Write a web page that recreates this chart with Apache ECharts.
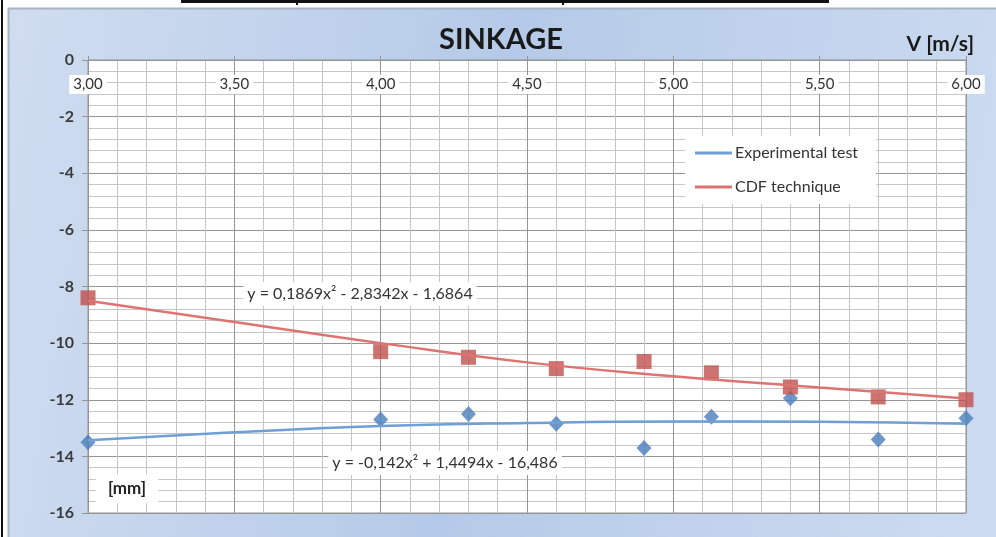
<!DOCTYPE html>
<html>
<head>
<meta charset="utf-8">
<script src="https://cdn.jsdelivr.net/npm/echarts@6/dist/echarts.min.js"></script>
<style>
  html, body { margin: 0; padding: 0; background: #ffffff; }
  #chart { width: 996px; height: 537px; }
</style>
</head>
<body>
<div id="chart"></div>
<script>
// Speed of the measurements [m/s]
const speeds = [3.00, 4.00, 4.30, 4.60, 4.90, 5.13, 5.40, 5.70, 6.00];
// Sinkage [mm] from the CFD simulation and from the experimental test
const cdfSinkage = [-8.4, -10.3, -10.5, -10.9, -10.65, -11.05, -11.55, -11.9, -12.0];
const expSinkage = [-13.5, -12.7, -12.5, -12.85, -13.7, -12.6, -11.95, -13.4, -12.65];

// Polynomial trend lines, sampled along the speed range
const trendSpeeds = [3.0, 3.5, 4.0, 4.5, 5.0, 5.5, 6.0];
const cdfTrend = [-8.5, -9.25, -10.0, -10.68, -11.17, -11.57, -11.96];
const expTrend = [-13.43, -13.15, -12.93, -12.82, -12.77, -12.78, -12.85];

// Axis ranges and tick steps
const speedRange = [3, 6];
const speedStep = 0.5;
const sinkageRange = [-16, 0];
const sinkageStep = 2;

// Texts
const titleText = 'SINKAGE';
const xUnit = 'V [m/s]';
const yUnit = '[mm]';
const legendNames = ['Experimental test', 'CDF technique'];
const cdfEquation = 'y = 0,1869x² - 2,8342x - 1,6864';
const expEquation = 'y = -0,142x² + 1,4494x - 16,486';

const FONT = 'Lato, "Open Sans", sans-serif';
const BLUE = '#4a7ebb';
const RED = '#c0504d';
const BLUE_LINE = '#6f9fd6';
const RED_LINE = '#dd7472';
const MAJOR_GRID = '#959595';
const MINOR_GRID = '#c6c6c6';

const pairs = (xs, ys) => xs.map((x, i) => [x, ys[i]]);
const comma = v => v.toFixed(2).replace('.', ',');

const chart = echarts.init(document.getElementById('chart'));

chart.setOption({
  animation: false,
  backgroundColor: '#ffffff',
  textStyle: { fontFamily: FONT },
  title: {
    text: titleText,
    left: 439,
    top: 25,
    padding: 0,
    textStyle: { fontFamily: FONT, fontSize: 29, fontWeight: 'bold', color: '#1a1a1a' }
  },
  legend: {
    data: legendNames,
    orient: 'vertical',
    left: 685,
    top: 136,
    padding: [7, 18, 7, 10],
    itemGap: 14,
    itemWidth: 37,
    itemHeight: 3,
    icon: 'rect',
    backgroundColor: '#ffffff',
    textStyle: { fontFamily: FONT, fontSize: 16, color: '#333333', lineHeight: 20, padding: [0, 0, 0, -2] }
  },
  grid: {
    left: 88,
    right: 30,
    top: 60,
    bottom: 24,
    show: true,
    backgroundColor: '#ffffff',
    borderColor: MAJOR_GRID,
    borderWidth: 1
  },
  xAxis: {
    type: 'value',
    position: 'top',
    min: speedRange[0],
    max: speedRange[1],
    interval: speedStep,
    axisLine: { show: true, lineStyle: { color: MAJOR_GRID, width: 1 } },
    axisTick: { show: true, length: 4, lineStyle: { color: MAJOR_GRID } },
    axisLabel: {
      inside: true,
      margin: 15,
      showMinLabel: true,
      showMaxLabel: true,
      formatter: v => comma(v),
      fontFamily: FONT,
      fontSize: 15,
      color: '#333333',
      backgroundColor: '#ffffff',
      padding: [2, 4, 2, 4]
    },
    splitLine: { show: true, lineStyle: { color: MAJOR_GRID, width: 1 } },
    minorTick: { show: false, splitNumber: 5 },
    minorSplitLine: { show: true, lineStyle: { color: MINOR_GRID, width: 1 } }
  },
  yAxis: {
    type: 'value',
    min: sinkageRange[0],
    max: sinkageRange[1],
    interval: sinkageStep,
    axisLine: { show: true, lineStyle: { color: MAJOR_GRID, width: 1 } },
    axisTick: { show: true, length: 6, lineStyle: { color: MAJOR_GRID } },
    axisLabel: {
      margin: 14,
      fontFamily: FONT,
      fontSize: 16,
      fontWeight: 'bold',
      color: '#3a3a3a'
    },
    splitLine: { show: true, lineStyle: { color: MAJOR_GRID, width: 1 } },
    minorTick: { show: false, splitNumber: 5 },
    minorSplitLine: { show: true, lineStyle: { color: MINOR_GRID, width: 1 } }
  },
  series: [
    {
      name: 'Experimental data',
      type: 'scatter',
      symbol: 'diamond',
      symbolSize: [15, 16],
      itemStyle: { color: BLUE },
      data: pairs(speeds, expSinkage),
      z: 2
    },
    {
      name: 'CFD data',
      type: 'scatter',
      symbol: 'rect',
      symbolSize: 15,
      itemStyle: { color: RED },
      data: pairs(speeds, cdfSinkage),
      z: 3
    },
    {
      name: legendNames[0],
      type: 'line',
      smooth: true,
      showSymbol: false,
      lineStyle: { color: BLUE_LINE, width: 2.5 },
      itemStyle: { color: BLUE_LINE },
      data: pairs(trendSpeeds, expTrend),
      z: 4
    },
    {
      name: legendNames[1],
      type: 'line',
      smooth: true,
      showSymbol: false,
      lineStyle: { color: RED_LINE, width: 2.5 },
      itemStyle: { color: RED_LINE },
      data: pairs(trendSpeeds, cdfTrend),
      z: 4
    }
  ],
  graphic: [
    // page frame behind the chart panel
    { type: 'rect', z: -100, silent: true, shape: { x: 0, y: 0, width: 996, height: 537 }, style: { fill: '#ffffff' } },
    { type: 'rect', z: -99, silent: true, shape: { x: 1, y: 0, width: 2, height: 537 }, style: { fill: '#111111' } },
    { type: 'rect', z: -99, silent: true, shape: { x: 181, y: 0, width: 648, height: 3 }, style: { fill: '#111111' } },
    { type: 'rect', z: -99, silent: true, shape: { x: 296, y: 0, width: 2, height: 5 }, style: { fill: '#111111' } },
    { type: 'rect', z: -99, silent: true, shape: { x: 562, y: 0, width: 2, height: 5 }, style: { fill: '#111111' } },
    // chart panel with a soft blue gradient
    {
      type: 'rect', z: -98, silent: true,
      shape: { x: 8.5, y: 8.5, width: 995, height: 535 },
      style: {
        fill: new echarts.graphic.LinearGradient(0, 0, 1, 0.3, [
          { offset: 0, color: '#d0ddf0' },
          { offset: 0.5, color: '#b5cae8' },
          { offset: 1, color: '#cbdaf0' }
        ]),
        stroke: '#a9b4c2',
        lineWidth: 2
      }
    },
    // axis unit labels
    {
      type: 'text', z: 100,
      style: { text: xUnit, x: 974, y: 44, textAlign: 'right', textVerticalAlign: 'middle', font: 'bold 21px ' + FONT, fill: '#1a1a1a' }
    },
    {
      type: 'text', z: 100,
      style: { text: yUnit, x: 127, y: 489, textAlign: 'center', textVerticalAlign: 'middle', font: 'bold 17px ' + FONT, fill: '#222222', backgroundColor: '#ffffff', padding: [6, 12, 6, 12] }
    },
    // trend line equations
    {
      type: 'text', z: 100,
      style: { text: cdfEquation, x: 360, y: 294, textAlign: 'center', textVerticalAlign: 'middle', font: '16px ' + FONT, fill: '#333333', backgroundColor: '#ffffff', padding: [4, 4, 4, 4] }
    },
    {
      type: 'text', z: 100,
      style: { text: expEquation, x: 445, y: 463, textAlign: 'center', textVerticalAlign: 'middle', font: '16px ' + FONT, fill: '#333333', backgroundColor: '#ffffff', padding: [4, 4, 4, 4] }
    }
  ]
});
</script>
</body>
</html>
